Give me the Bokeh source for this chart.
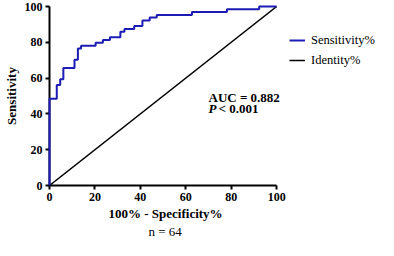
from bokeh.plotting import figure
from bokeh.models import Range1d, Label, Title, Legend, LegendItem, FixedTicker
from bokeh.embed import file_html
from bokeh.resources import INLINE

# ROC curve (100% - specificity, sensitivity), step "after"
fpr = [0, 0, 3.2, 4.7, 6.1, 11.0, 12.5, 13.9, 20.3, 23.5, 26.6, 31.2, 33.0,
       37.3, 40.9, 44.1, 47.2, 62.7, 78.1, 92.3, 100]
sens = [0, 48.4, 56.2, 59.4, 65.6, 70.3, 76.6, 78.1, 79.7, 81.3, 82.8, 85.9,
        87.5, 89.1, 92.2, 93.8, 95.3, 96.9, 98.4, 100, 100]
identity_x = [0, 100]
identity_y = [0, 100]
ticks = [0, 20, 40, 60, 80, 100]
x_label = "100% - Specificity%"
y_label = "Sensitivity"
auc_text = "AUC = 0.882"
p_label = "P"
p_text = "< 0.001"
n_text = "n = 64"

FONT = "Liberation Serif"
BLUE = "#1c1cb4"
LEFT = 42
AXIS_W = 232          # pixels for 0..100 on x
FRAME_W = 378 - LEFT
X_END = FRAME_W / AXIS_W * 100

p = figure(width=378, height=240, output_backend="svg", toolbar_location=None,
           x_range=Range1d(0, X_END), y_range=Range1d(0, 100),
           min_border_top=6, min_border_bottom=0, min_border_left=LEFT,
           min_border_right=0)
p.outline_line_color = None
p.grid.visible = False

r1 = p.step(fpr, sens, mode="after", line_color=BLUE, line_width=2)
r2 = p.line(identity_x, identity_y, line_color="black", line_width=1.5)
r1.level = "overlay"

for ax in (p.xaxis[0], p.yaxis[0]):
    ax.ticker = FixedTicker(ticks=ticks)
    ax.bounds = (0, 100)
    ax.axis_line_width = 2
    ax.axis_line_color = "black"
    ax.major_tick_line_width = 2
    ax.major_tick_line_color = "black"
    ax.major_tick_out = 4
    ax.major_tick_in = 0
    ax.minor_tick_line_color = None
    ax.major_label_text_font = FONT
    ax.major_label_text_font_style = "bold"
    ax.major_label_text_font_size = "12px"
    ax.major_label_text_color = "black"
    ax.major_label_standoff = 3
    ax.axis_label_text_font = FONT
    ax.axis_label_text_font_style = "bold"
    ax.axis_label_text_font_size = "13px"
    ax.axis_label_text_color = "black"
    ax.axis_label_standoff = 3

p.yaxis.axis_label = y_label

legend = Legend(items=[LegendItem(label="Sensitivity%", renderers=[r1]),
                       LegendItem(label="Identity%", renderers=[r2])],
                location=(AXIS_W + 8, 115), margin=0, padding=0, spacing=0,
                glyph_width=16, glyph_height=20, label_height=20,
                label_standoff=6, label_text_font=FONT,
                label_text_font_size="12.5px", label_text_color="black",
                border_line_color=None, background_fill_alpha=0)
p.add_layout(legend, "center")

p.add_layout(Label(x=70, y=49, text=auc_text, text_font=FONT,
                   text_font_style="bold", text_font_size="13px",
                   text_baseline="alphabetic", text_color="black"))
p.add_layout(Label(x=70, y=42.9, text=p_label, text_font=FONT,
                   text_font_style="bold italic", text_font_size="13px",
                   text_baseline="alphabetic", text_color="black"))
p.add_layout(Label(x=70, y=42.9, x_offset=10, text=p_text, text_font=FONT,
                   text_font_style="bold", text_font_size="13px",
                   text_baseline="alphabetic", text_color="black"))

p.add_layout(Title(text=x_label, align="left", offset=AXIS_W / 2 - 57,
                   text_font=FONT, text_font_style="bold",
                   text_font_size="13px", text_color="black", standoff=0),
             "below")
p.add_layout(Title(text=n_text, align="left", offset=AXIS_W / 2 - 17,
                   text_font=FONT, text_font_style="normal",
                   text_font_size="13px", text_color="black", standoff=3),
             "below")

open("out.html", "w").write(file_html(p, INLINE))
